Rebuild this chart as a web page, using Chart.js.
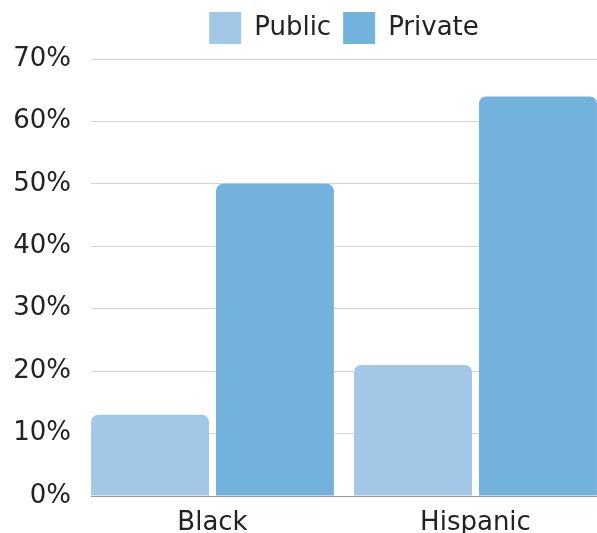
<!DOCTYPE html>
<html>
<head>
<meta charset="utf-8">
<script src="https://cdn.jsdelivr.net/npm/chart.js@4/dist/chart.umd.min.js"></script>
<style>
  html, body { margin: 0; padding: 0; background: #fff; }
  #wrap { width: 597px; height: 533px; }
</style>
</head>
<body>
<div id="wrap"><canvas id="c" width="597" height="533"></canvas></div>
<script>
const categories = ['Black', 'Hispanic'];
const publicValues = [13, 21];
const privateValues = [50, 64];
const seriesNames = ['Public', 'Private'];
const yTicks = [0, 10, 20, 30, 40, 50, 60, 70];

const FONT = 'DejaVu Sans';
const toPoints = (vals) => vals.map((v, i) => ({ x: i, y: v }));

const legendSpacing = {
  id: 'legendSpacing',
  beforeInit(chart) {
    const lg = chart.legend;
    if (!lg) return;
    const origFit = lg.fit;
    lg.fit = function () {
      origFit.call(this);
      this.height += 5;
    };
  }
};

new Chart(document.getElementById('c'), {
  type: 'bar',
  plugins: [legendSpacing],
  data: {
    datasets: [
      {
        label: seriesNames[0],
        data: toPoints(publicValues),
        backgroundColor: '#a2c7e7',
        borderWidth: 0,
        borderRadius: { topLeft: 7, topRight: 7, bottomLeft: 0, bottomRight: 0 },
        borderSkipped: false,
        categoryPercentage: 0.95,
        barPercentage: 0.944
      },
      {
        label: seriesNames[1],
        data: toPoints(privateValues),
        backgroundColor: '#74b2de',
        borderWidth: 0,
        borderRadius: { topLeft: 7, topRight: 7, bottomLeft: 0, bottomRight: 0 },
        borderSkipped: false,
        categoryPercentage: 0.95,
        barPercentage: 0.944
      }
    ]
  },
  options: {
    responsive: false,
    animation: false,
    devicePixelRatio: 1,
    layout: { padding: { top: 0, left: 0, right: 0, bottom: 0 } },
    plugins: {
      tooltip: { enabled: false },
      legend: {
        position: 'top',
        fullSize: false,
        labels: {
          boxWidth: 32,
          boxHeight: 32,
          padding: 12,
          color: '#222',
          font: { family: FONT, size: 26 }
        }
      }
    },
    scales: {
      x: {
        type: 'linear',
        offset: false,
        min: -0.462,
        max: 1.462,
        bounds: 'data',
        grid: { display: false },
        border: { display: true, color: '#999', width: 1 },
        afterBuildTicks: (axis) => { axis.ticks = categories.map((c, i) => ({ value: i })); },
        afterFit: (scale) => { scale.height = 37; },
        ticks: {
          color: '#222',
          padding: 4,
          font: { family: FONT, size: 26 },
          callback: (v) => categories[v] ?? ''
        }
      },
      y: {
        min: yTicks[0],
        max: yTicks[yTicks.length - 1],
        afterFit: (scale) => { scale.width = 91; },
        afterBuildTicks: (axis) => { axis.ticks = yTicks.map(v => ({ value: v })); },
        grid: { color: '#d3d3d3', drawTicks: false, lineWidth: 1 },
        border: { display: false },
        ticks: {
          color: '#222',
          padding: 20,
          font: { family: FONT, size: 26 },
          callback: (v) => v + '%'
        }
      }
    }
  }
});
</script>
</body>
</html>
